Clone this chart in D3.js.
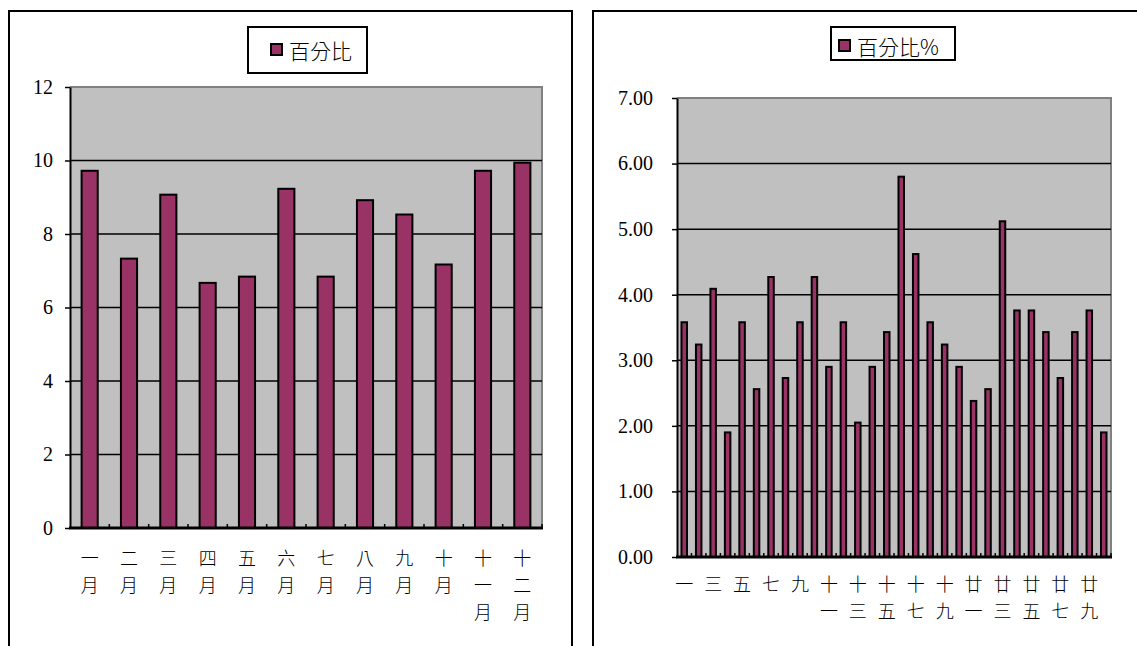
<!DOCTYPE html>
<html>
<head>
<meta charset="utf-8">
<script src="https://cdn.jsdelivr.net/npm/d3@7"></script>
<style>
  body { margin: 0; background: #fff; }
  .cjk { font-family: "Noto Sans CJK TC", sans-serif; font-weight: 300; }
</style>
</head>
<body>
<svg id="chart" width="1137" height="646"></svg>
<script>
// left chart: monthly percentage
const months = ['一月', '二月', '三月', '四月', '五月', '六月', '七月', '八月', '九月', '十月', '十一月', '十二月'];
const monthPct = [9.72, 7.33, 9.07, 6.67, 6.84, 9.23, 6.84, 8.92, 8.53, 7.17, 9.72, 9.94];
const monthTicks = [0, 2, 4, 6, 8, 10, 12];

// right chart: daily percentage
const days = ['一', '二', '三', '四', '五', '六', '七', '八', '九', '十',
  '十一', '十二', '十三', '十四', '十五', '十六', '十七', '十八', '十九', '二十',
  '廿一', '廿二', '廿三', '廿四', '廿五', '廿六', '廿七', '廿八', '廿九', '三十'];
const dayPct = [3.58, 3.24, 4.09, 1.90, 3.58, 2.56, 4.27, 2.73, 3.58, 4.27,
  2.90, 3.58, 2.05, 2.90, 3.43, 5.80, 4.62, 3.58, 3.24, 2.90,
  2.38, 2.56, 5.12, 3.76, 3.76, 3.43, 2.73, 3.43, 3.76, 1.90];
const dayTicks = [0, 1, 2, 3, 4, 5, 6, 7];

const BAR = '#993366';
const NUM_FONT = '"Liberation Serif", "Times New Roman", Times, serif';
const svg = d3.select('#chart');

function panel(o) {
  const g = svg.append('g');

  // outer frame
  g.append('rect')
    .attr('x', o.frame[0]).attr('y', o.frame[1])
    .attr('width', o.frame[2]).attr('height', o.frame[3])
    .attr('fill', '#fff').attr('stroke', '#000').attr('stroke-width', 2);

  // legend
  const lg = o.legend;
  g.append('rect')
    .attr('x', lg.x).attr('y', lg.y).attr('width', lg.w).attr('height', lg.h)
    .attr('fill', '#fff').attr('stroke', '#000').attr('stroke-width', 2);
  g.append('rect')
    .attr('x', lg.x + lg.sx).attr('y', lg.ty - 6).attr('width', 11).attr('height', 11)
    .attr('fill', BAR).attr('stroke', '#000').attr('stroke-width', 2);
  g.append('text').attr('class', 'cjk')
    .attr('x', lg.x + lg.sx + 18).attr('y', lg.ty)
    .attr('dominant-baseline', 'central')
    .attr('font-size', 21)
    .text(lg.label);

  const [x0, x1] = o.xr;
  const [y0, y1] = o.yr;

  const x = d3.scaleBand()
    .domain(o.cats)
    .range([x0, x1])
    .paddingInner(o.pad)
    .paddingOuter(o.pad / 2);
  const y = d3.scaleLinear()
    .domain([0, d3.max(o.ticks)])
    .range([y1, y0]);

  // plot area
  g.append('rect')
    .attr('x', x0).attr('y', y0).attr('width', x1 - x0).attr('height', y1 - y0)
    .attr('fill', '#c0c0c0');
  g.append('path')
    .attr('d', `M${x0},${y0}H${x1}V${y1}`)
    .attr('fill', 'none').attr('stroke', '#808080').attr('stroke-width', 2);

  // gridlines
  g.selectAll('.grid')
    .data(o.ticks.filter(t => t > 0 && t < d3.max(o.ticks)))
    .enter().append('line')
    .attr('x1', x0).attr('x2', x1)
    .attr('y1', d => y(d)).attr('y2', d => y(d))
    .attr('stroke', '#000').attr('stroke-width', 1.5);

  // y axis
  const ya = g.append('g')
    .attr('transform', 'translate(' + x0 + ',0)')
    .call(d3.axisLeft(y).tickValues(o.ticks).tickSize(5).tickSizeOuter(0)
      .tickPadding(o.tickPad).tickFormat(o.fmt));
  ya.attr('font-family', null).attr('font-size', null);
  ya.select('.domain').attr('stroke', '#000').attr('stroke-width', 2);
  ya.selectAll('.tick line').attr('stroke', '#000').attr('stroke-width', 1.5);
  ya.selectAll('.tick text')
    .style('font-family', NUM_FONT)
    .style('font-size', '20px')
    .attr('fill', '#000');

  // bars
  g.selectAll('.bar')
    .data(o.values)
    .enter().append('rect')
    .attr('x', (d, i) => x(o.cats[i]))
    .attr('y', d => y(d))
    .attr('width', x.bandwidth())
    .attr('height', d => y(0) - y(d))
    .attr('fill', BAR).attr('stroke', '#000').attr('stroke-width', 2);

  // x axis line and inward ticks at band boundaries
  g.selectAll('.xtick')
    .data(d3.range(1, o.cats.length + 1))
    .enter().append('line')
    .attr('x1', i => x0 + i * x.step()).attr('x2', i => x0 + i * x.step())
    .attr('y1', y1).attr('y2', y1 - 4)
    .attr('stroke', '#000').attr('stroke-width', 1.5);
  g.append('line')
    .attr('x1', x0 - 1).attr('x2', x1 + 1).attr('y1', y1).attr('y2', y1)
    .attr('stroke', '#000').attr('stroke-width', 3);

  // category labels, stacked one character per line
  o.cats.forEach((c, i) => {
    if (i % o.every !== 0) return;
    const cx = x(c) + x.bandwidth() / 2;
    Array.from(c).forEach((ch, k) => {
      g.append('text').attr('class', 'cjk')
        .attr('x', cx).attr('y', o.labelY + k * o.lineH)
        .attr('text-anchor', 'middle')
        .attr('dominant-baseline', 'central')
        .attr('font-size', 18)
        .attr('fill', '#000')
        .text(ch);
    });
  });
}

panel({
  frame: [9, 11, 563, 660],
  legend: { x: 248, y: 27, w: 119, h: 46, sx: 23, ty: 50, label: '百分比' },
  xr: [70, 542], yr: [87, 528],
  cats: months, values: monthPct, ticks: monthTicks,
  fmt: d3.format('d'), tickPad: 12, pad: 0.59,
  every: 1, labelY: 557, lineH: 27
});

panel({
  frame: [593, 11, 560, 660],
  legend: { x: 831, y: 27, w: 124, h: 33, sx: 8, ty: 46, label: '百分比%' },
  xr: [677, 1111], yr: [98, 557],
  cats: days, values: dayPct, ticks: dayTicks,
  fmt: d3.format('.2f'), tickPad: 19, pad: 0.62,
  every: 2, labelY: 583, lineH: 27
});
</script>
</body>
</html>
